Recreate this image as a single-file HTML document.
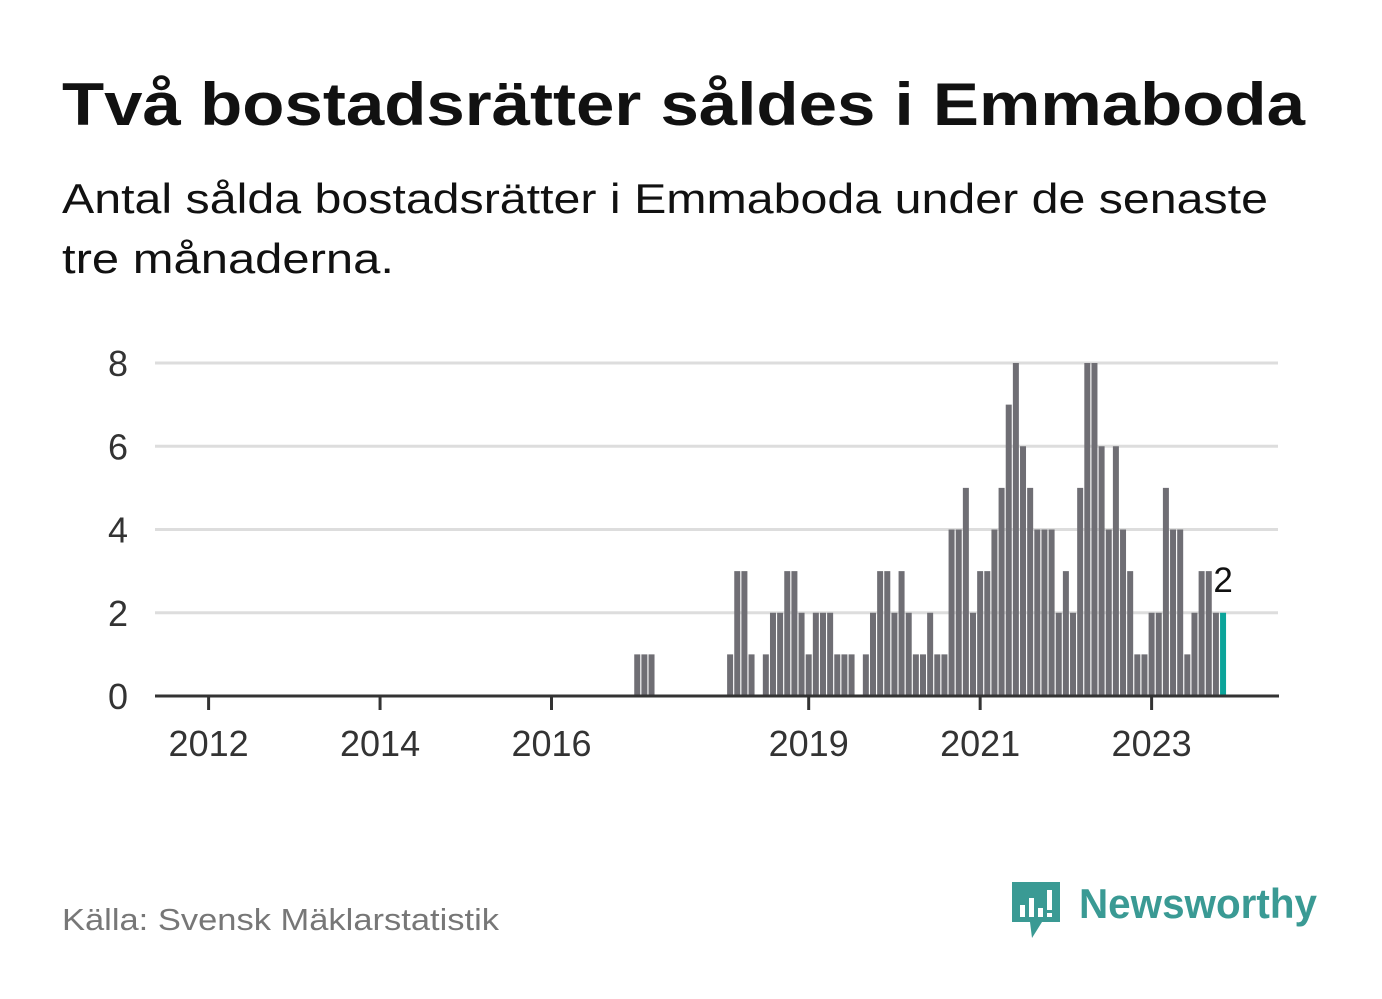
<!DOCTYPE html>
<html><head><meta charset="utf-8"><style>
html,body{margin:0;padding:0;background:#fff;}
svg{display:block;font-family:"Liberation Sans",sans-serif;}
</style></head><body>
<svg id="c" width="1382" height="999" viewBox="0 0 1382 999">
<text x="62" y="125" font-size="60" font-weight="bold" fill="#111" textLength="1243" lengthAdjust="spacingAndGlyphs">Två bostadsrätter såldes i Emmaboda</text>
<text x="62" y="213" font-size="42" fill="#111" textLength="1206" lengthAdjust="spacingAndGlyphs">Antal sålda bostadsrätter i Emmaboda under de senaste</text>
<text x="62" y="273" font-size="42" fill="#111" textLength="332" lengthAdjust="spacingAndGlyphs">tre månaderna.</text>
<g id="grid"></g><g id="bars"></g><g id="axis"></g>
<text x="62" y="930" font-size="31" fill="#777" textLength="437" lengthAdjust="spacingAndGlyphs">Källa: Svensk Mäklarstatistik</text>
<g>
<path d="M1012 882 h48 v40 h-18 l-10 16 l-2 -16 h-18 z" fill="#3a9a94"/>
<rect x="1020" y="905" width="5" height="12" fill="#fff"/><rect x="1029" y="898" width="5" height="19" fill="#fff"/><rect x="1038" y="908" width="5" height="9" fill="#fff"/><rect x="1047" y="890" width="5" height="20" fill="#fff"/><rect x="1047" y="913" width="5" height="4" fill="#fff"/>
<text x="1079" y="918" font-size="42" font-weight="bold" fill="#3a9a94" textLength="238" lengthAdjust="spacingAndGlyphs">Newsworthy</text>
</g>
</svg>
<script>
const values = [0,0,0,0,0,0,0,0,0,0,0,0, 0,0,0,0,0,0,0,0,0,0,0,0, 0,0,0,0,0,0,0,0,0,0,0,0, 0,0,0,0,0,0,0,0,0,0,0,0, 0,0,0,0,0,0,0,0,0,0,0,0,
1,1,1,0,0,0,0,0,0,0,0,0, 0,1,3,3,1,0,1,2,2,3,3,2, 1,2,2,2,1,1,1,0,1,2,3,3, 2,3,2,1,1,2,1,1,4,4,5,2, 3,3,4,5,7,8,6,5,4,4,4,2, 3,2,5,8,8,6,4,6,4,3,1,1, 2,2,5,4,4,1,2,3,3,2,2];
const tickYears = [2012,2014,2016,2019,2021,2023];
const yTicks = [0,2,4,6,8];
const NS="http://www.w3.org/2000/svg";
const x0=208.6, pitch=7.144, y0=696, yk=41.625;
const xs = m => x0 + m*pitch;
const ys = v => y0 - v*yk;
function mk(t,a,p){const e=document.createElementNS(NS,t);for(const k in a)e.setAttribute(k,a[k]);p.appendChild(e);return e;}
const grid=document.getElementById('grid'),bars=document.getElementById('bars'),axis=document.getElementById('axis');
yTicks.forEach(v=>{
  if(v>0){const l=mk('line',{x1:155,x2:1278,y1:ys(v),y2:ys(v),stroke:'#ddd','stroke-width':3},grid);
  
  }
  const t=mk('text',{x:128,y:ys(v)+13,'font-size':36,fill:'#333','text-anchor':'end'},grid);t.textContent=v;
  
  
});
const last=values.length-1;
values.forEach((v,m)=>{
  if(v<=0)return;
  const r=mk('rect',{x:xs(m)-3,y:ys(v),width:6,height:v*yk,fill:m===last?'#0ca49a':'#6f6e74'},bars);
  
  
});
const lbl=mk('text',{x:xs(last),y:ys(values[last])-21,'font-size':35,fill:'#111','text-anchor':'middle',stroke:'#fff','stroke-width':6,'paint-order':'stroke'},bars);
lbl.textContent=values[last];


const ax=mk('line',{x1:155,x2:1279,y1:y0,y2:y0,stroke:'#333','stroke-width':3},axis);


tickYears.forEach(yr=>{
  const m=(yr-2012)*12;
  const tk=mk('line',{x1:xs(m),x2:xs(m),y1:y0,y2:y0+14,stroke:'#333','stroke-width':3},axis);
  
  
  const t=mk('text',{x:xs(m),y:756,'font-size':36,fill:'#333','text-anchor':'middle'},axis);t.textContent=yr;
  
  
});
</script>
</body></html>
